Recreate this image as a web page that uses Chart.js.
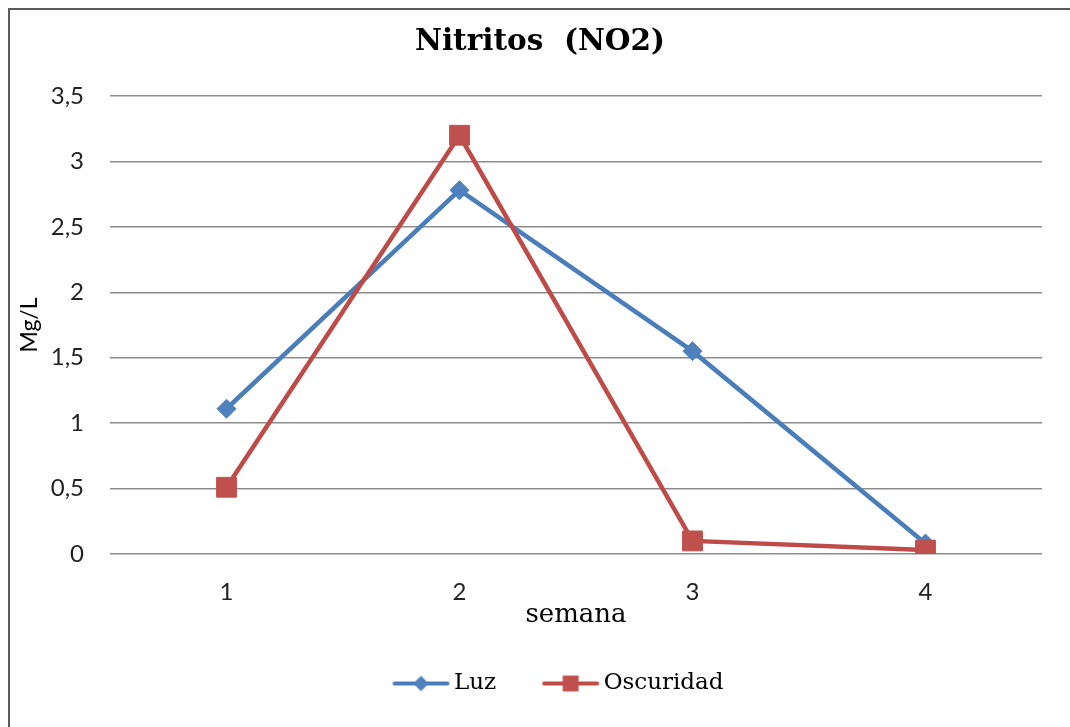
<!DOCTYPE html>
<html lang="es">
<head>
<meta charset="utf-8">
<title>Nitritos (NO2)</title>
<script src="https://cdn.jsdelivr.net/npm/chart.js@4/dist/chart.umd.min.js"></script>
<style>
  html, body { margin: 0; padding: 0; background: #ffffff; }
  #wrap { position: relative; width: 1070px; height: 727px; overflow: hidden; }
  #frame {
    position: absolute; left: 8px; top: 8px; width: 1070px; height: 740px;
    border-left: 2px solid #5a5a5a; border-top: 2px solid #5a5a5a;
    box-sizing: border-box; pointer-events: none;
  }
  canvas { position: absolute; left: 0; top: 0; }
</style>
</head>
<body>
<div id="wrap">
  <canvas id="chart" width="1070" height="727"></canvas>
  <div id="frame"></div>
</div>
<script>
// Weekly nitrite readings (mg/L) under light and dark conditions
const semanas = ['1', '2', '3', '4'];
const luz = [1.11, 2.78, 1.55, 0.08];
const oscuridad = [0.51, 3.20, 0.10, 0.03];
const yTicks = [0, 0.5, 1, 1.5, 2, 2.5, 3, 3.5];

const AZUL_LINEA = '#4a7ebb';
const AZUL_MARCA = '#4f81bd';
const ROJO_LINEA = '#be4b48';
const ROJO_MARCA = '#c0504d';

// Legend swatch geometry: the box reserved by the legend is SW wide; the
// image overhangs it by EXT on both sides so the line ends close to the text.
const SW = 86;
const EXT = 8;
const LINE_LEN = 57;

function swatch(color, markColor, style, r) {
  const c = document.createElement('canvas');
  c.width = SW + 2 * EXT; c.height = 24;
  const ctx = c.getContext('2d');
  const x1 = c.width - 1;
  const x0 = x1 - LINE_LEN;
  ctx.strokeStyle = color;
  ctx.lineWidth = 4;
  ctx.lineCap = 'round';
  ctx.beginPath();
  ctx.moveTo(x0 + 2, 12); ctx.lineTo(x1 - 2, 12);
  ctx.stroke();
  ctx.fillStyle = markColor;
  Chart.helpers.drawPoint(ctx, { pointStyle: style, radius: r, borderWidth: 0 }, (x0 + x1) / 2, 12);
  ctx.fill();
  return c;
}

const ctx = document.getElementById('chart').getContext('2d');
new Chart(ctx, {
  type: 'line',
  data: {
    labels: semanas,
    datasets: [
      {
        label: 'Luz',
        data: luz,
        order: 1,
        borderColor: AZUL_LINEA,
        backgroundColor: AZUL_MARCA,
        borderWidth: 4.5,
        pointStyle: 'rectRot',
        pointRadius: 9.5,
        pointHoverRadius: 9.5,
        pointBorderWidth: 1,
        pointBorderColor: AZUL_MARCA,
        pointBackgroundColor: AZUL_MARCA,
        tension: 0
      },
      {
        label: 'Oscuridad',
        data: oscuridad,
        order: 0,
        borderColor: ROJO_LINEA,
        backgroundColor: ROJO_MARCA,
        borderWidth: 4.5,
        pointStyle: 'rect',
        pointRadius: 14,
        pointHoverRadius: 14,
        pointBorderWidth: 1,
        pointBorderColor: ROJO_MARCA,
        pointBackgroundColor: ROJO_MARCA,
        tension: 0
      }
    ]
  },
  options: {
    responsive: false,
    animation: false,
    events: [],
    layout: { padding: { left: 38, right: 28, top: 0, bottom: 22 } },
    plugins: {
      title: {
        display: true,
        text: 'Nitritos  (NO2)',
        color: '#000000',
        font: { family: '"DejaVu Serif"', size: 29.5, weight: 'bold', lineHeight: 1.2 },
        padding: { top: 25, bottom: 35.6 }
      },
      legend: {
        position: 'bottom',
        labels: {
          color: '#000000',
          font: { family: '"DejaVu Serif"', size: 23 },
          usePointStyle: true,
          pointStyleWidth: SW,
          padding: 10,
          boxHeight: 22,
          sort: (a, b) => a.datasetIndex - b.datasetIndex,
          generateLabels: (chart) => chart.data.datasets.map((ds, i) => ({
            text: ds.label,
            datasetIndex: i,
            fontColor: '#000000',
            lineWidth: 0,
            strokeStyle: 'transparent',
            fillStyle: 'transparent',
            hidden: false,
            pointStyle: i === 0
              ? swatch(AZUL_LINEA, AZUL_MARCA, 'rectRot', 7.5)
              : swatch(ROJO_LINEA, ROJO_MARCA, 'rect', 11)
          }))
        }
      },
      tooltip: { enabled: false }
    },
    scales: {
      x: {
        offset: true,
        grid: { display: false, drawTicks: false },
        border: { display: false },
        ticks: {
          color: '#222222',
          font: { family: 'Lato', size: 24, lineHeight: 1.0 },
          padding: 26
        },
        title: {
          display: true,
          text: 'semana',
          color: '#000000',
          font: { family: '"DejaVu Serif"', size: 26, lineHeight: 1.1 },
          padding: { top: -29.3, bottom: 32.7 }
        }
      },
      y: {
        min: 0,
        max: 3.5,
        afterBuildTicks: (scale) => { scale.ticks = yTicks.map(v => ({ value: v })); },
        afterFit: (scale) => { scale.width = 72; },
        grid: { color: '#8c8c8c', lineWidth: 1.5, drawTicks: false },
        border: { display: false },
        ticks: {
          color: '#222222',
          font: { family: 'Lato', size: 24, lineHeight: 1.0 },
          padding: 26,
          callback: (v) => String(v).replace('.', ',')
        },
        title: {
          display: true,
          text: 'Mg/L',
          color: '#000000',
          font: { family: 'Lato', size: 23, lineHeight: 1.0 },
          padding: { top: -19.5, bottom: 0 }
        }
      }
    }
  }
});
</script>
</body>
</html>
